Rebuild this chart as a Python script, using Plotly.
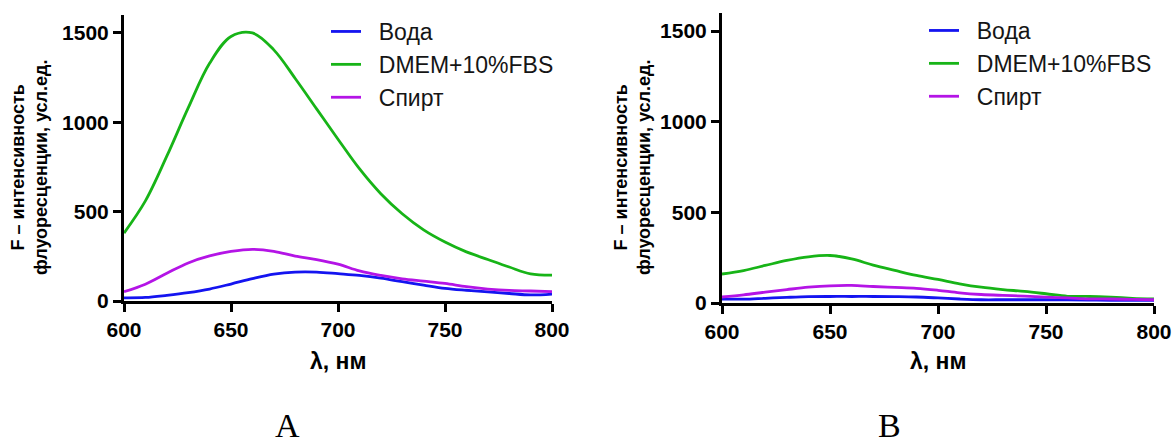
import plotly.graph_objects as go

W, H = 1175, 443

wavelength = [600, 610, 620, 630, 640, 650, 660, 670, 680, 690, 700,
              710, 720, 730, 740, 750, 760, 770, 780, 790, 800]

# Panel A
a_water = [18, 20, 32, 47, 67, 95, 125, 150, 162, 162, 153,
           143, 128, 108, 89, 71, 60, 51, 42, 34, 39]
a_dmem = [380, 560, 810, 1080, 1330, 1480, 1500, 1405, 1245, 1075, 905,
          740, 600, 488, 398, 330, 275, 232, 190, 152, 145]
a_spirt = [52, 94, 155, 213, 252, 277, 289, 278, 251, 232, 206,
           168, 143, 124, 111, 98, 80, 67, 59, 56, 52]

# Panel B
b_water = [22, 21, 26, 31, 35, 36, 36, 36, 35, 33, 28,
           22, 18, 18, 18, 18, 17, 16, 15, 15, 15]
b_dmem = [160, 179, 207, 235, 255, 262, 243, 209, 180, 152, 130,
          106, 87, 74, 64, 51, 37, 36, 32, 26, 22]
b_spirt = [33, 45, 60, 74, 87, 95, 97, 91, 86, 81, 70,
           56, 47, 42, 38, 32, 28, 23, 22, 20, 18]

series_names = ["Вода", "DMEM+10%FBS", "Спирт"]
colors = ["#1414F0", "#17B417", "#B414E6"]

x_ticks = [600, 650, 700, 750, 800]
y_ticks = [0, 500, 1000, 1500]
y_title = "F – интенсивность<br>флуоресценции, усл.ед."
x_title = "λ, нм"
panel_labels = ["A", "B"]

SANS = "Liberation Sans, Arial, sans-serif"
SERIF = "Liberation Serif, Times New Roman, serif"
NB = "\u00a0\u00a0"

fig = go.Figure()
for i, (ys, name) in enumerate(zip([a_water, a_dmem, a_spirt], series_names)):
    fig.add_trace(go.Scatter(x=wavelength, y=ys, mode="lines", name=NB + name,
                             line=dict(color=colors[i], width=2.8, shape="spline", smoothing=1.0),
                             xaxis="x", yaxis="y", legend="legend"))
for i, (ys, name) in enumerate(zip([b_water, b_dmem, b_spirt], series_names)):
    fig.add_trace(go.Scatter(x=wavelength, y=ys, mode="lines", name=NB + name,
                             line=dict(color=colors[i], width=2.8, shape="spline", smoothing=1.0),
                             xaxis="x2", yaxis="y2", legend="legend2"))

axis_common = dict(showgrid=False, zeroline=False, showline=True, linecolor="black",
                   linewidth=3, ticks="outside", ticklen=8, tickwidth=2.5, tickcolor="black",
                   tickfont=dict(family=SANS, size=21, color="black", weight="bold"),
                   automargin=False, fixedrange=True)

fig.update_layout(
    width=W, height=H,
    margin=dict(l=0, r=0, t=0, b=0),
    paper_bgcolor="white", plot_bgcolor="white",
    xaxis=dict(domain=[124 / W, 552 / W], range=[600, 800], tickvals=x_ticks, anchor="y", **axis_common),
    yaxis=dict(domain=[(H - 301) / H, (H - 15) / H], range=[0, 1600], tickvals=y_ticks, anchor="x", **axis_common),
    xaxis2=dict(domain=[722 / W, 1154 / W], range=[600, 800], tickvals=x_ticks, anchor="y2", **axis_common),
    yaxis2=dict(domain=[(H - 303) / H, (H - 13) / H], range=[0, 1600], tickvals=y_ticks, anchor="x2", **axis_common),
    legend=dict(x=326 / W, y=(H - 10) / H, xanchor="left", yanchor="top",
                font=dict(family=SANS, size=23, color="#151515"), bgcolor="rgba(0,0,0,0)",
                itemwidth=30, tracegroupgap=0),
    legend2=dict(x=924 / W, y=(H - 9) / H, xanchor="left", yanchor="top",
                 font=dict(family=SANS, size=23, color="#151515"), bgcolor="rgba(0,0,0,0)",
                 itemwidth=30, tracegroupgap=0),
    showlegend=True,
)

annotations = []
for cx, tx in [(29, 338), (632, 938)]:
    annotations.append(dict(text=y_title, x=cx / W, y=(H - 168) / H, xref="paper", yref="paper",
                            xanchor="center", yanchor="middle", textangle=-90, showarrow=False,
                            font=dict(family=SANS, size=18, color="black", weight="bold")))
    annotations.append(dict(text=x_title, x=tx / W, y=(H - 361) / H, xref="paper", yref="paper",
                            xanchor="center", yanchor="middle", showarrow=False,
                            font=dict(family=SANS, size=23, color="black", weight="bold")))
for lx, lab in zip([287, 889], panel_labels):
    annotations.append(dict(text=lab, x=lx / W, y=(H - 425) / H, xref="paper", yref="paper",
                            xanchor="center", yanchor="middle", showarrow=False,
                            font=dict(family=SERIF, size=34, color="black")))
fig.update_layout(annotations=annotations)

fig.write_html("out.html")
